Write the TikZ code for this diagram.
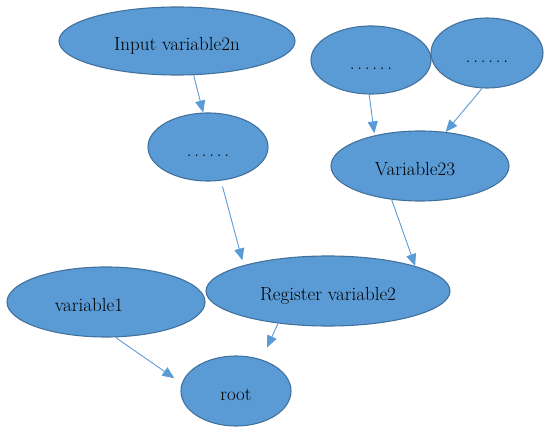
\documentclass[tikz,border=0pt]{standalone}
\usepackage{fontspec}
\usetikzlibrary{shapes.geometric,arrows.meta}
\definecolor{nodefill}{HTML}{5B9BD5}
\definecolor{nodeline}{HTML}{41719C}
\definecolor{arrowcol}{HTML}{5B9BD5}
\newcommand{\sixdots}{.\kern2.8pt.\kern2.8pt.\kern2.8pt.\kern2.8pt.\kern2.8pt.}
\tikzset{
  blob/.style={ellipse, draw=nodeline, fill=nodefill, line width=1.1pt, inner sep=0pt,
    font=\fontsize{19}{22}\selectfont, text height=21pt, text depth=1pt},
  lab/.style={inner sep=0pt, font=\fontsize{19}{22}\selectfont, text height=21pt, text depth=1pt},
  link/.style={draw=arrowcol, line width=0.9pt, -{Triangle[length=12pt,width=10pt]}}
}
\begin{document}
\begin{tikzpicture}[x=1pt,y=-1pt]
\useasboundingbox (0,0) rectangle (550,433);
\node[blob, minimum width=236pt, minimum height=68pt] (in) at (177,41) {Input variable2n};
\node[blob, minimum width=120pt, minimum height=68pt] (d1) at (208,147) {\sixdots};
\node[blob, minimum width=120pt, minimum height=68pt] (d2) at (371,60) {\sixdots};
\node[blob, minimum width=112pt, minimum height=70pt] (d3) at (487,53) {\sixdots};
\node[blob, minimum width=178pt, minimum height=70pt, label={[lab,xshift=-5pt]center:Variable23}] (v23) at (420,166) {};
\node[blob, minimum width=198pt, minimum height=70pt, label={[lab,xshift=-17pt]center:variable1}] (v1) at (106,302) {};
\node[blob, minimum width=244pt, minimum height=70pt] (reg) at (328,291) {Register variable2};
\node[blob, minimum width=110pt, minimum height=70pt] (root) at (236,391) {root};
\draw[link] (in.-64) -- (d1.98);
\draw[link, shorten <=6pt, shorten >=5pt] (d1.-69) -- (reg.163);
\draw[link, shorten >=2pt] (d2.-93) -- (v23.146);
\draw[link] (d3.-98) -- (v23.53);
\draw[link] (v23.-130) -- (reg.16);
\draw[link, shorten >=13pt] (reg.-147) -- (root.51);
\draw[link, shorten >=9pt] (v1.-75) -- (root.172);
\end{tikzpicture}
\end{document}
